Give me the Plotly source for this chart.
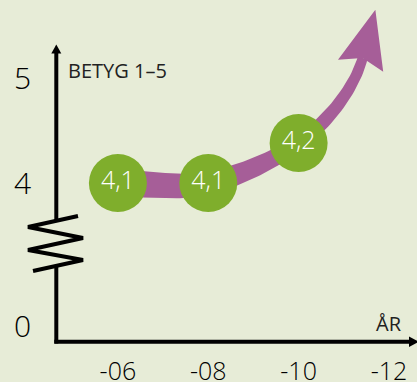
import numpy as np
import plotly.graph_objects as go

# ---- data ----
years = [2006, 2008, 2010]
ratings = [4.1, 4.1, 4.2]
value_labels = ["4,1", "4,1", "4,2"]
x_tick_vals = [2006, 2008, 2010, 2012]
x_tick_text = ["-06", "-08", "-10", "-12"]
y_tick_vals = [3.7425, 4.1, 4.3625]
y_tick_text = ["0", "4", "5"]
y_axis_title = "BETYG 1–5"
x_axis_title = "ÅR"

# ---- layout constants ----
W, H = 417, 382
ML, MR, MT, MB = 56, 0, 0, 40
PW, PH = W - ML - MR, H - MT - MB
XR = [2004.63, 2012.62]
YR = [3.7025, 4.5575]
BG = "#E7ECD7"
PURPLE = "#A65E98"
GREEN = "#7FAE2C"


def d2p(x, y):
    return (ML + (x - XR[0]) / (XR[1] - XR[0]) * PW,
            MT + (YR[1] - y) / (YR[1] - YR[0]) * PH)


def p2d(px, py):
    return (XR[0] + (px - ML) / PW * (XR[1] - XR[0]),
            YR[1] - (py - MT) / PH * (YR[1] - YR[0]))


def pp(px, py):  # pixel -> paper
    return (px - ML) / PW, (MT + PH - py) / PH


# ---- trend arrow (pixel geometry anchored on the data points) ----
P = [np.array(d2p(x, y)) for x, y in zip(years, ratings)]
P.append(P[-1] + np.array([64.0, -85.0]))           # arrow shaft end
T = [np.array([90.0, 0.0]), (P[2] - P[0]) / 2, np.array([80.0, -55.0]), np.array([25.0, -95.0])]
widths = [28, 23, 15, 10]

upper, lower = [], []
for i in range(3):
    for t in np.linspace(0, 1, 30):
        h00 = 2 * t**3 - 3 * t**2 + 1
        h10 = t**3 - 2 * t**2 + t
        h01 = -2 * t**3 + 3 * t**2
        h11 = t**3 - t**2
        c = h00 * P[i] + h10 * T[i] + h01 * P[i + 1] + h11 * T[i + 1]
        d = (6 * t**2 - 6 * t) * P[i] + (3 * t**2 - 4 * t + 1) * T[i] + \
            (-6 * t**2 + 6 * t) * P[i + 1] + (3 * t**2 - 2 * t) * T[i + 1]
        d = d / np.linalg.norm(d)
        n = np.array([-d[1], d[0]])
        w = widths[i] + (widths[i + 1] - widths[i]) * t
        upper.append(c + n * w / 2)
        lower.append(c - n * w / 2)
band = upper + lower[::-1] + [upper[0]]
band_d = [p2d(*p) for p in band]

u = T[3] / np.linalg.norm(T[3])
nrm = np.array([-u[1], u[0]])
mid = P[3] - 8 * u
tip = P[3] + 50 * u
head = [mid + 23.4 * nrm, tip, mid - 23.4 * nrm, P[3], mid + 23.4 * nrm]
head_d = [p2d(*p) for p in head]

fig = go.Figure()
fig.add_trace(go.Scatter(x=[p[0] for p in band_d], y=[p[1] for p in band_d],
                         mode="lines", fill="toself", fillcolor=PURPLE,
                         line=dict(width=0, color=PURPLE), hoverinfo="skip"))
fig.add_trace(go.Scatter(x=[p[0] for p in head_d], y=[p[1] for p in head_d],
                         mode="lines", fill="toself", fillcolor=PURPLE,
                         line=dict(width=0, color=PURPLE), hoverinfo="skip"))
fig.add_trace(go.Scatter(x=years, y=ratings, mode="markers+text",
                         marker=dict(size=58, color=GREEN, line=dict(width=0)),
                         text=value_labels, textposition="middle center",
                         textfont=dict(family="Open Sans", size=25, color="white", weight=300),
                         hoverinfo="skip", cliponaxis=False))

# ---- axes drawn as shapes (broken y axis) ----
shapes = []


def path(pts):
    s = ""
    for k, (px, py) in enumerate(pts):
        x, y = pp(px, py)
        s += ("M" if k == 0 else "L") + f"{x:.5f},{y:.5f} "
    return s


line = dict(color="black", width=4)
AX = 56.3
shapes.append(dict(type="path", xref="paper", yref="paper", path=path([(AX, 50), (AX, 221)]), line=line))
shapes.append(dict(type="path", xref="paper", yref="paper",
                   path=path([(78, 216), (28, 227), (83, 238), (28, 250), (83, 260), (33, 271)]), line=line))
shapes.append(dict(type="path", xref="paper", yref="paper", path=path([(AX, 266), (AX, 343.5)]), line=line))
shapes.append(dict(type="path", xref="paper", yref="paper", path=path([(54.3, 341.7), (411, 341.7)]), line=line))
shapes.append(dict(type="path", xref="paper", yref="paper",
                   path=path([(51.3, 53.5), (56.3, 44.5), (61.3, 53.5)]) + "Z",
                   fillcolor="black", line=dict(width=0)))
shapes.append(dict(type="path", xref="paper", yref="paper",
                   path=path([(409, 336.5), (419, 341.7), (409, 347)]) + "Z",
                   fillcolor="black", line=dict(width=0)))

bx, by = pp(66, 70)
ax_, ay_ = pp(404, 323)
annotations = [
    dict(text=y_axis_title, x=bx, y=by, xref="paper", yref="paper", xanchor="left",
         yanchor="middle", showarrow=False, font=dict(family="Open Sans", size=20, color="#222222")),
    dict(text=x_axis_title, x=ax_, y=ay_, xref="paper", yref="paper", xanchor="right",
         yanchor="middle", showarrow=False, font=dict(family="Open Sans", size=20, color="#222222")),
]

fig.update_layout(
    width=W, height=H, margin=dict(l=ML, r=MR, t=MT, b=MB, autoexpand=False),
    paper_bgcolor=BG, plot_bgcolor=BG, showlegend=False,
    shapes=shapes, annotations=annotations,
    xaxis=dict(range=XR, showgrid=False, zeroline=False, showline=False,
               tickvals=x_tick_vals, ticktext=x_tick_text, ticks="",
               ticklabelstandoff=12, automargin=False,
               tickfont=dict(family="Open Sans", size=25, color="black", weight=300)),
    yaxis=dict(range=YR, showgrid=False, zeroline=False, showline=False,
               tickvals=y_tick_vals, ticktext=y_tick_text, ticks="",
               ticklabelstandoff=24, automargin=False,
               tickfont=dict(family="Open Sans", size=30, color="black", weight=300)),
)

fig.write_html("out.html", config={"displayModeBar": False},
               post_script="document.body.style.margin='0';document.body.style.overflow='hidden';")
